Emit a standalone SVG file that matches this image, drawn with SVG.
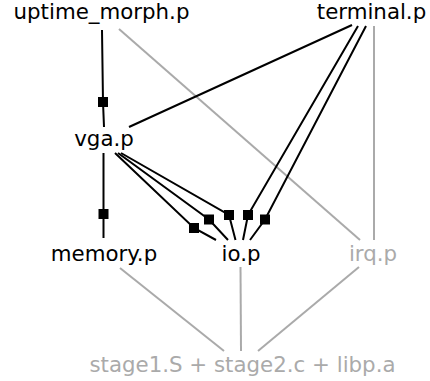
<svg xmlns="http://www.w3.org/2000/svg" width="430" height="381" viewBox="0 0 430 381">
  <style>
    text { font-family: "DejaVu Sans", "Liberation Sans", sans-serif; font-size: 21.33px; text-anchor: middle; }
    .dark { fill: #000000; }
    .dim { fill: #aaaaaa; }
    .e { fill: none; stroke-width: 2; }
    .k { stroke: #000000; }
    .g { stroke: #aaaaaa; }
    .box { fill: #000000; }
  </style>
  <rect width="430" height="381" fill="#ffffff"/>

  <g id="edges">
    <!-- grey dependencies -->
    <line class="e g" x1="119" y1="29" x2="360" y2="240"/>
    <line class="e g" x1="374" y1="26" x2="374" y2="240"/>
    <line class="e g" x1="120" y1="268" x2="224" y2="351"/>
    <line class="e g" x1="240.5" y1="267" x2="241" y2="351"/>
    <line class="e g" x1="359" y1="267" x2="258" y2="351"/>

    <!-- uptime_morph.p -> vga.p -->
    <polyline class="e k" points="102,30 103,102 104,127"/>
    <rect class="box" x="98" y="97" width="10" height="10"/>

    <!-- vga.p -> memory.p -->
    <polyline class="e k" points="103.5,153 103.5,214 103.5,238"/>
    <rect class="box" x="98.5" y="209" width="10" height="10"/>

    <!-- terminal.p -> vga.p -->
    <line class="e k" x1="352" y1="25" x2="129" y2="127"/>

    <!-- vga.p -> io.p -->
    <polyline class="e k" points="115,153 194,228 216,240"/>
    <rect class="box" x="189" y="223" width="10" height="10"/>
    <polyline class="e k" points="118,153 209,219.5 228,240"/>
    <rect class="box" x="204" y="214.5" width="10" height="10"/>
    <polyline class="e k" points="121,153 229,215 235.5,240"/>
    <rect class="box" x="224" y="210" width="10" height="10"/>

    <!-- terminal.p -> io.p -->
    <polyline class="e k" points="358,26 248,215 243,240"/>
    <rect class="box" x="243" y="210" width="10" height="10"/>
    <polyline class="e k" points="366,26 265,219.5 250,240"/>
    <rect class="box" x="260" y="214.5" width="10" height="10"/>
  </g>

  <g id="uptime_morph"><text class="dark" x="101.5" y="19">uptime_morph.p</text></g>
  <g id="terminal"><text class="dark" x="371.5" y="19">terminal.p</text></g>
  <g id="vga"><text class="dark" x="104" y="146">vga.p</text></g>
  <g id="memory"><text class="dark" x="104" y="261">memory.p</text></g>
  <g id="io"><text class="dark" x="241" y="261">io.p</text></g>
  <g id="irq"><text class="dim" x="373" y="261">irq.p</text></g>
  <g id="stage"><text class="dim" x="242.5" y="372">stage1.S + stage2.c + libp.a</text></g>
</svg>
